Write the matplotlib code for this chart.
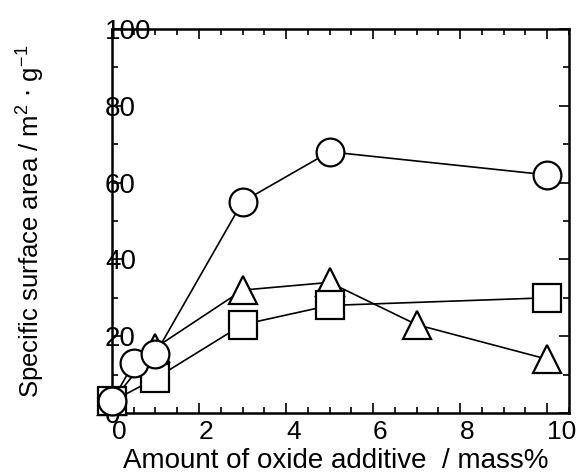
import matplotlib; matplotlib.use("Agg")
import matplotlib.pyplot as plt
from matplotlib.ticker import MultipleLocator

# data
x_circle = [0, 0.5, 1.0, 3.0, 5.0, 10.0]
y_circle = [3, 13, 15.4, 55, 68, 62]

x_triangle = [0, 1.0, 3.0, 5.0, 7.0, 10.0]
y_triangle = [3, 17, 32, 34, 23, 14]

x_square = [0, 1.0, 3.0, 5.0, 10.0]
y_square = [3, 9, 23, 28, 30]

x_ticks = [0, 2, 4, 6, 8, 10]
y_ticks = [0, 20, 40, 60, 80, 100]

# plotting
plt.rcParams["font.family"] = ["Liberation Sans", "DejaVu Sans"]
fig = plt.figure(figsize=(5.8, 4.74), dpi=100)
ax = fig.add_axes([0.193, 0.1287, 0.788, 0.8103])
ax.set_xlim(0, 10.5)
ax.set_ylim(0, 100)

style = dict(color="black", linewidth=1.2, markersize=20, markerfacecolor="white",
             markeredgecolor="black", markeredgewidth=1.6, clip_on=False)
ax.plot(x_triangle, y_triangle, marker="^", zorder=3, **style)
ax.plot(x_square, y_square, marker="s", zorder=4, **style)
ax.plot(x_circle, y_circle, marker="o", zorder=5, **style)

for s in ax.spines.values():
    s.set_linewidth(1.8)

ax.set_xticks(x_ticks)
ax.set_yticks(y_ticks)
ax.xaxis.set_minor_locator(MultipleLocator(0.5))
ax.yaxis.set_minor_locator(MultipleLocator(10))
ax.tick_params(which="both", direction="in", top=True, right=True, width=1.2)
ax.tick_params(which="major", length=7)
ax.tick_params(which="minor", length=4)
ax.tick_params(axis="y", pad=5, labelsize=20)
ax.tick_params(axis="x", pad=5, labelsize=19)
for lab in ax.get_xticklabels():
    lab.set_horizontalalignment("left")
for lab in ax.get_yticklabels():
    lab.set_horizontalalignment("left")
    lab.set_zorder(1)

ax.set_xlabel("Amount of oxide additive  / mass%", fontsize=20)
ax.xaxis.set_label_coords(0.49, -0.091)
ax.set_ylabel("Specific surface area / m$^\\mathregular{2}$ $\\cdot$ g$^\\mathregular{-1}$", fontsize=18.5)
ax.yaxis.set_label_coords(-0.145, 0.5)

fig.savefig("out.png", dpi=100)
